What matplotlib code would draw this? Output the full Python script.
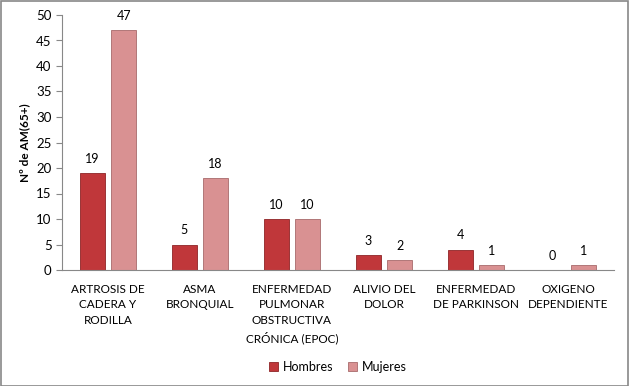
import matplotlib
matplotlib.use("Agg")
import matplotlib.pyplot as plt
import numpy as np

categories = [
    "ARTROSIS DE\nCADERA Y\nRODILLA",
    "ASMA\nBRONQUIAL",
    "ENFERMEDAD\nPULMONAR\nOBSTRUCTIVA\nCRÓNICA (EPOC)",
    "ALIVIO DEL\nDOLOR",
    "ENFERMEDAD\nDE PARKINSON",
    "OXIGENO\nDEPENDIENTE",
]
hombres = [19, 5, 10, 3, 4, 0]
mujeres = [47, 18, 10, 2, 1, 1]

plt.rcParams["font.family"] = ["Lato", "DejaVu Sans"]

fig = plt.figure(figsize=(6.29, 3.86), dpi=100)
ax = fig.add_axes([62 / 629, 1 - 270 / 386, 552 / 629, 255 / 386])

x = np.arange(len(categories))
w = 0.27
off = 0.17
c_h = "#C0373A"
c_m = "#D99192"
b1 = ax.bar(x - off, hombres, w, color=c_h, edgecolor="#8E2426", linewidth=0.6, label="Hombres")
b2 = ax.bar(x + off, mujeres, w, color=c_m, edgecolor="#A86A6B", linewidth=0.6, label="Mujeres")

for bars, vals in ((b1, hombres), (b2, mujeres)):
    for rect, v in zip(bars, vals):
        ax.text(rect.get_x() + rect.get_width() / 2, v + 1.6, str(v),
                ha="center", va="bottom", fontsize=9)

ax.set_xlim(-0.5, len(categories) - 0.5)
ax.set_ylim(0, 50)
ax.set_yticks(range(0, 51, 5))
ax.tick_params(axis="y", labelsize=9.5, length=4, color="#888888", direction="out")
ax.set_xticks(x)
ax.set_xticklabels(categories, fontsize=8.5, linespacing=1.5)
ax.tick_params(axis="x", length=0, pad=10)
for s in ("top", "right"):
    ax.spines[s].set_visible(False)
for s in ("left", "bottom"):
    ax.spines[s].set_color("#888888")
ax.set_ylabel("Nº de AM(65+)", fontsize=8.5, fontweight="bold", labelpad=4)

ax.legend(loc="center", bbox_to_anchor=(0.5, -0.38), ncol=2, frameon=False,
          fontsize=9, handlelength=0.7, handleheight=0.7, columnspacing=1.2,
          handletextpad=0.4)

fig.patches.append(plt.Rectangle((0.001, 0.001), 0.997, 0.997, transform=fig.transFigure,
                                 fill=False, edgecolor="#888888", linewidth=1.2))
fig.savefig("out.png", dpi=100)
